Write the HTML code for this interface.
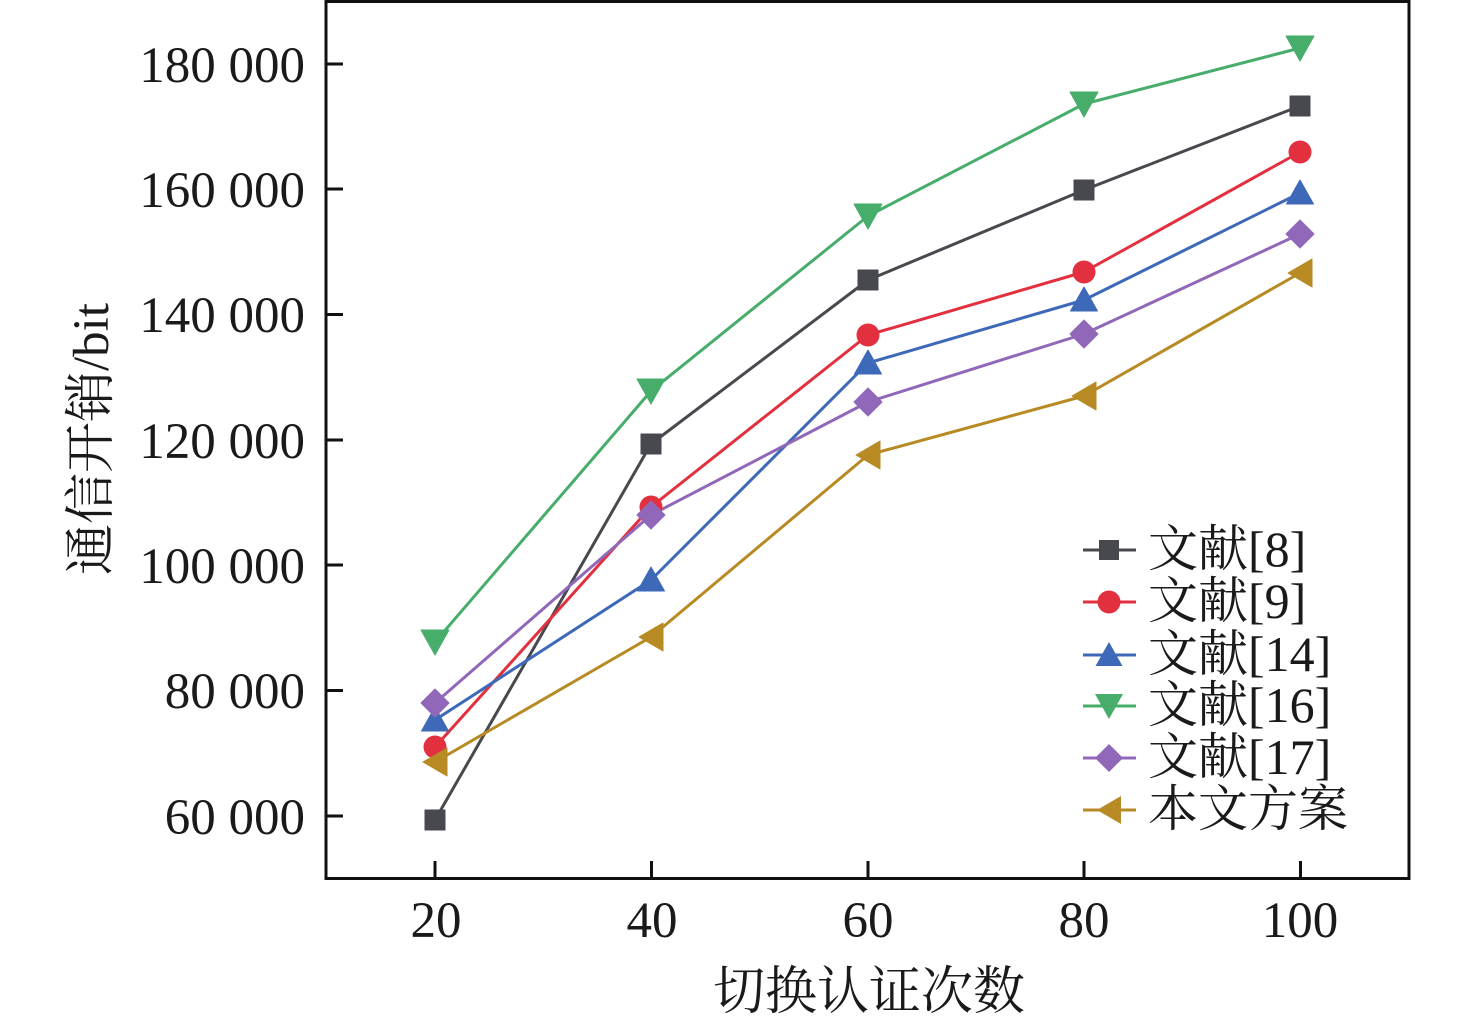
<!DOCTYPE html>
<html>
<head>
<meta charset="utf-8">
<style>
  html,body{margin:0;padding:0;background:#fff;}
  svg{display:block;}
  text{font-family:"Liberation Serif","Noto Serif CJK SC",serif;fill:#1a1a1a;}
</style>
</head>
<body>
<svg width="1476" height="1025" viewBox="0 0 1476 1025" xmlns="http://www.w3.org/2000/svg">
  <defs>
    <rect id="sq" x="-10" y="-10" width="20" height="20"/>
    <circle id="ci" cx="0" cy="0" r="11.5"/>
    <polygon id="tu" points="0,-13 13.5,11 -13.5,11"/>
    <polygon id="td" points="-14,-12 14,-12 0,13"/>
    <polygon id="di" points="0,-14 14,0 0,14 -14,0"/>
    <polygon id="tl" points="-12,0 12,-14 12,14"/>
  </defs>
  <rect width="1476" height="1025" fill="#fff"/>

  <!-- frame -->
  <rect x="326" y="1.5" width="1083" height="877" fill="none" stroke="#111" stroke-width="3"/>

  <!-- y ticks -->
  <g stroke="#111" stroke-width="3">
    <line x1="326" y1="64" x2="343" y2="64"/>
    <line x1="326" y1="189" x2="343" y2="189"/>
    <line x1="326" y1="314.5" x2="343" y2="314.5"/>
    <line x1="326" y1="440" x2="343" y2="440"/>
    <line x1="326" y1="565" x2="343" y2="565"/>
    <line x1="326" y1="690.5" x2="343" y2="690.5"/>
    <line x1="326" y1="816" x2="343" y2="816"/>
    <!-- x ticks -->
    <line x1="435" y1="861" x2="435" y2="878"/>
    <line x1="651.5" y1="861" x2="651.5" y2="878"/>
    <line x1="868" y1="861" x2="868" y2="878"/>
    <line x1="1084" y1="861" x2="1084" y2="878"/>
    <line x1="1300.5" y1="861" x2="1300.5" y2="878"/>
  </g>

  <!-- y tick labels -->
  <g font-size="51" text-anchor="end">
    <text x="305" y="82">180 000</text>
    <text x="305" y="207">160 000</text>
    <text x="305" y="332">140 000</text>
    <text x="305" y="458">120 000</text>
    <text x="305" y="583">100 000</text>
    <text x="305" y="708">80 000</text>
    <text x="305" y="834">60 000</text>
  </g>
  <!-- x tick labels -->
  <g font-size="51" text-anchor="middle">
    <text x="436" y="937">20</text>
    <text x="652" y="937">40</text>
    <text x="868" y="937">60</text>
    <text x="1084" y="937">80</text>
    <text x="1300" y="937">100</text>
  </g>

  <!-- axis titles -->
  <text x="869" y="1009" font-size="52" text-anchor="middle">切换认证次数</text>
  <text transform="translate(108,439) rotate(-90)" font-size="51" text-anchor="middle">通信开销/bit</text>

  <!-- series -->
  <g fill="none" stroke-width="3" stroke-linejoin="round">
    <polyline stroke="#48494e" points="435,820 651,444 868,280 1084,190 1300,106"/>
    <polyline stroke="#e3303f" points="435,747 651,507 868,335 1084,272 1300,152"/>
    <polyline stroke="#3e68b8" points="435,720 651,580 868,363 1084,300 1300,193"/>
    <polyline stroke="#47ad6a" points="435,642 651,391 868,216 1084,104 1300,48"/>
    <polyline stroke="#9168b9" points="435,703 651,515 868,402 1084,334 1300,234"/>
    <polyline stroke="#b78a23" points="435,762 651,637 868,455 1084,396 1300,273"/>
  </g>

  <g fill="#48494e" stroke="#48494e" stroke-width="1" stroke-linejoin="round">
    <use href="#sq" x="435" y="820"/><use href="#sq" x="651" y="444"/><use href="#sq" x="868" y="280"/><use href="#sq" x="1084" y="190"/><use href="#sq" x="1300" y="106"/>
  </g>
  <g fill="#e3303f">
    <use href="#ci" x="435" y="747"/><use href="#ci" x="651" y="507"/><use href="#ci" x="868" y="335"/><use href="#ci" x="1084" y="272"/><use href="#ci" x="1300" y="152"/>
  </g>
  <g fill="#3e68b8" stroke="#3e68b8" stroke-width="1" stroke-linejoin="round">
    <use href="#tu" x="435" y="720"/><use href="#tu" x="651" y="580"/><use href="#tu" x="868" y="363"/><use href="#tu" x="1084" y="300"/><use href="#tu" x="1300" y="193"/>
  </g>
  <g fill="#47ad6a" stroke="#47ad6a" stroke-width="1" stroke-linejoin="round">
    <use href="#td" x="435" y="642"/><use href="#td" x="651" y="391"/><use href="#td" x="868" y="216"/><use href="#td" x="1084" y="104"/><use href="#td" x="1300" y="48"/>
  </g>
  <g fill="#9168b9" stroke="#9168b9" stroke-width="1" stroke-linejoin="round">
    <use href="#di" x="435" y="703"/><use href="#di" x="651" y="515"/><use href="#di" x="868" y="402"/><use href="#di" x="1084" y="334"/><use href="#di" x="1300" y="234"/>
  </g>
  <g fill="#b78a23" stroke="#b78a23" stroke-width="1" stroke-linejoin="round">
    <use href="#tl" x="435" y="762"/><use href="#tl" x="651" y="637"/><use href="#tl" x="868" y="455"/><use href="#tl" x="1084" y="396"/><use href="#tl" x="1300" y="273"/>
  </g>

  <!-- legend -->
  <g stroke-width="3">
    <line x1="1083" y1="550" x2="1136" y2="550" stroke="#48494e"/>
    <line x1="1083" y1="602" x2="1136" y2="602" stroke="#e3303f"/>
    <line x1="1083" y1="655" x2="1136" y2="655" stroke="#3e68b8"/>
    <line x1="1083" y1="706" x2="1136" y2="706" stroke="#47ad6a"/>
    <line x1="1083" y1="758" x2="1136" y2="758" stroke="#9168b9"/>
    <line x1="1083" y1="810" x2="1136" y2="810" stroke="#b78a23"/>
  </g>
  <use href="#sq" x="1109" y="550" fill="#48494e"/>
  <use href="#ci" x="1109" y="602" fill="#e3303f"/>
  <use href="#tu" x="1109" y="655" fill="#3e68b8"/>
  <use href="#td" x="1109" y="706" fill="#47ad6a"/>
  <use href="#di" x="1109" y="758" fill="#9168b9"/>
  <use href="#tl" x="1109" y="810" fill="#b78a23"/>
  <g font-size="50">
    <text x="1148" y="566">文献[8]</text>
    <text x="1148" y="618">文献[9]</text>
    <text x="1148" y="671">文献[14]</text>
    <text x="1148" y="722">文献[16]</text>
    <text x="1148" y="774">文献[17]</text>
    <text x="1148" y="826">本文方案</text>
  </g>
</svg>
</body>
</html>
